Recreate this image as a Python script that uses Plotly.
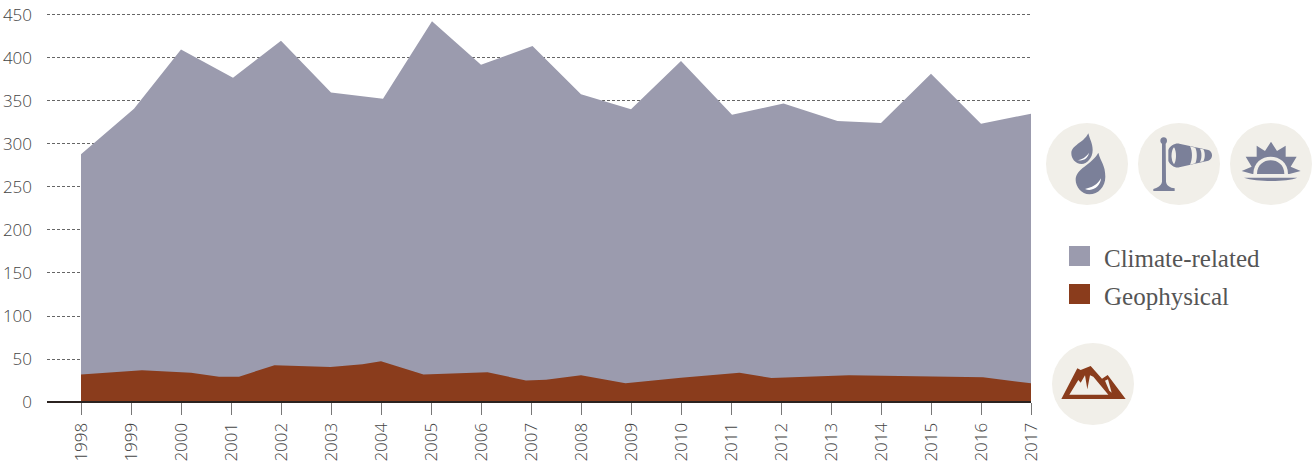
import re
import plotly.graph_objects as go

# ---- data ----
tick_years = list(range(1998, 2018))
y_ticks = [0, 50, 100, 150, 200, 250, 300, 350, 400, 450]

climate_years = [1998, 1999.06, 2000, 2001.04, 2002, 2003, 2004.04, 2005.02, 2006, 2007.03,
                 2008, 2009, 2010, 2011.02, 2012.05, 2013.13, 2014, 2015, 2016, 2017]
climate_top = [288, 341, 410, 377, 420, 360, 352.5, 442.6, 392, 414,
               357.8, 340.3, 396.5, 334, 347, 326.7, 324.4, 381.8, 323.6, 335.3]

geo_years = [1998, 1999.22, 2000.2, 2000.76, 2001.16, 2001.87, 2002.99, 2003.63, 2004, 2004.85,
             2006.13, 2006.9, 2007.3, 2008, 2008.89, 2010, 2011.17, 2011.81, 2013.36, 2015, 2016.04, 2017]
geo_values = [32, 37, 34, 29.5, 29.5, 42.6, 40.7, 43.8, 47.3, 32,
              34.5, 25, 26, 31, 21.7, 28.3, 34, 28, 31, 30, 28.7, 21.7]

legend_labels = ["Climate-related", "Geophysical"]

# ---- styles ----
GREY = "#9b9bae"
BROWN = "#8a3c1c"
ICON = "#7b8099"
BEIGE = "#f1efe9"
TXT = "#444444"
LEG = "#555555"

L, R, T, B = 47, 283, 13, 66
W, H = 1314, 468


def px(x, y):
    return (x - L) / (W - L - R), 1 - (y - T) / (H - T - B)


def path(d, ox, oy, fill):
    parts = []
    for tok in re.findall(r"[MLCZ]|-?[\d.]+\s+-?[\d.]+", d):
        if tok in "MLCZ":
            parts.append(tok)
        else:
            a, b = tok.split()
            X, Y = px(ox + float(a) / 3, oy + float(b) / 3)
            parts.append(f"{X:.5f},{Y:.5f}")
    return dict(type="path", xref="paper", yref="paper", path=" ".join(parts),
                fillcolor=fill, line=dict(width=0), layer="above")


def circle(cx, cy, r, fill=BEIGE):
    x0, y0 = px(cx - r, cy + r)
    x1, y1 = px(cx + r, cy - r)
    return dict(type="circle", xref="paper", yref="paper", x0=x0, y0=y0, x1=x1, y1=y1,
                fillcolor=fill, line=dict(width=0), layer="below")


def rect(x0p, y0p, x1p, y1p, fill):
    x0, y0 = px(x0p, y1p)
    x1, y1 = px(x1p, y0p)
    return dict(type="rect", xref="paper", yref="paper", x0=x0, y0=y0, x1=x1, y1=y1,
                fillcolor=fill, line=dict(width=0), layer="above")


shapes = [circle(1087, 164, 41), circle(1179, 164, 41), circle(1271, 164, 41), circle(1093, 384, 41)]

OX, OY = 1040, 115
# drops
shapes += [
    path("M145 55 C150 75 158 85 158 105 C158 130 140 147 125 147 C105 147 94 130 94 115 C94 90 130 85 145 55 Z", OX, OY, ICON),
    path("M112 135 C125 135 140 125 147 113 C145 128 130 140 112 135 Z", OX, OY, "#ffffff"),
    path("M175 113 C182 140 196 150 196 185 C196 215 175 238 148 238 C125 238 107 215 107 195 C107 160 155 150 175 113 Z", OX, OY, ICON),
    path("M135 222 C155 218 172 210 183 190 C182 212 160 232 135 222 Z", OX, OY, "#ffffff"),
]
# windsock
shapes += [
    path("M371 67 C378 67 381 72 381 77 C381 82 378 85 377 86 L378 200 C380 212 390 218 404 220 L404 228 L340 228 L340 222 C352 218 364 212 366 200 L366 86 C363 84 361 81 361 77 C361 72 365 67 371 67 Z", OX, OY, ICON),
    path("M385 105 C390 92 405 84 418 86 L505 105 C520 110 520 132 505 137 L418 157 C405 160 390 150 385 138 Z", OX, OY, ICON),
    path("M402 97 C410 108 410 136 402 148 C392 136 392 108 402 97 Z", OX, OY, BEIGE),
    path("M450 94 L466 98 C472 110 472 133 466 145 L450 149 C458 132 458 110 450 94 Z", OX, OY, BEIGE),
    path("M480 101 L490 103 C496 112 496 130 490 139 L480 141 C486 130 486 112 480 101 Z", OX, OY, BEIGE),
]
# sun
shapes += [
    path("M605 168 L635 155 L617 125 L650 125 L650 92 L675 108 L693 80 L711 108 L737 92 L737 125 L770 125 L752 155 L782 168 L748 177 L637 177 Z", OX, OY, ICON),
    path("M640 177 C640 108 744 108 744 177 Z", OX, OY, BEIGE),
    path("M651 177 C651 122 733 122 733 177 Z", OX, OY, ICON),
    path("M612 188 L772 188 C740 201 650 201 612 188 Z", OX, OY, ICON),
]
# mountain
MX, MY = 1040, 230
shapes += [
    path("M64 507 L112 415 L122 420 L152 408 L186 446 L203 435 L257 507 Z", MX, MY, BROWN),
    path("M88 494 L115 450 L122 458 L135 436 L142 478 L150 436 L160 440 L205 494 Z", MX, MY, BEIGE),
    path("M195 452 L204 448 L215 488 L208 482 Z", MX, MY, BEIGE),
]
# legend swatches
shapes += [rect(1069, 246, 1090, 266, GREY), rect(1069, 284, 1090, 304, BROWN)]
# baseline
shapes.append(dict(type="line", xref="paper", yref="paper", x0=0, x1=1, y0=0, y1=0,
                   line=dict(color="#2b2320", width=2), layer="above"))

annotations = []
for label, yy in zip(legend_labels, [258, 296]):
    ax, ay = px(1102, yy)
    annotations.append(dict(text=label, xref="paper", yref="paper", x=ax, y=ay, xanchor="left", yanchor="middle",
                            showarrow=False, font=dict(family="Liberation Serif", size=25, color=LEG)))

fig = go.Figure()
fig.add_trace(go.Scatter(x=climate_years, y=climate_top, name=legend_labels[0], mode="lines",
                         line=dict(width=0, color=GREY), fill="tozeroy", fillcolor=GREY,
                         hoverinfo="x+y"))
fig.add_trace(go.Scatter(x=geo_years, y=geo_values, name=legend_labels[1], mode="lines",
                         line=dict(width=0, color=BROWN), fill="tozeroy", fillcolor=BROWN,
                         hoverinfo="x+y"))

fig.update_layout(
    width=W, height=H, margin=dict(l=L, r=R, t=T, b=B, pad=0, autoexpand=False),
    paper_bgcolor="white", plot_bgcolor="white", showlegend=False,
    shapes=shapes, annotations=annotations,
    font=dict(family="Open Sans", color=TXT),
    xaxis=dict(range=[1998 - 34 / 50, 2017], tickmode="array", tickvals=tick_years,
               ticktext=[str(y) for y in tick_years], tickangle=-90, ticks="outside", ticklen=12,
               tickwidth=1, tickcolor="#777777", showgrid=False, zeroline=False, showline=False,
               automargin=False,
               tickfont=dict(family="Open Sans", size=17, color=TXT, weight=300),
               ticklabelstandoff=1),
    yaxis=dict(range=[0, 452.3], tickmode="array", tickvals=y_ticks, ticks="", showgrid=True,
               griddash="3px,2px", gridcolor="#666666", gridwidth=1, zeroline=False, showline=False,
               automargin=False,
               tickfont=dict(family="Open Sans", size=17, color=TXT, weight=300),
               ticklabelstandoff=14),
)
fig.write_html("out.html", config={"displayModeBar": False},
               post_script="document.body.style.margin='0';")
